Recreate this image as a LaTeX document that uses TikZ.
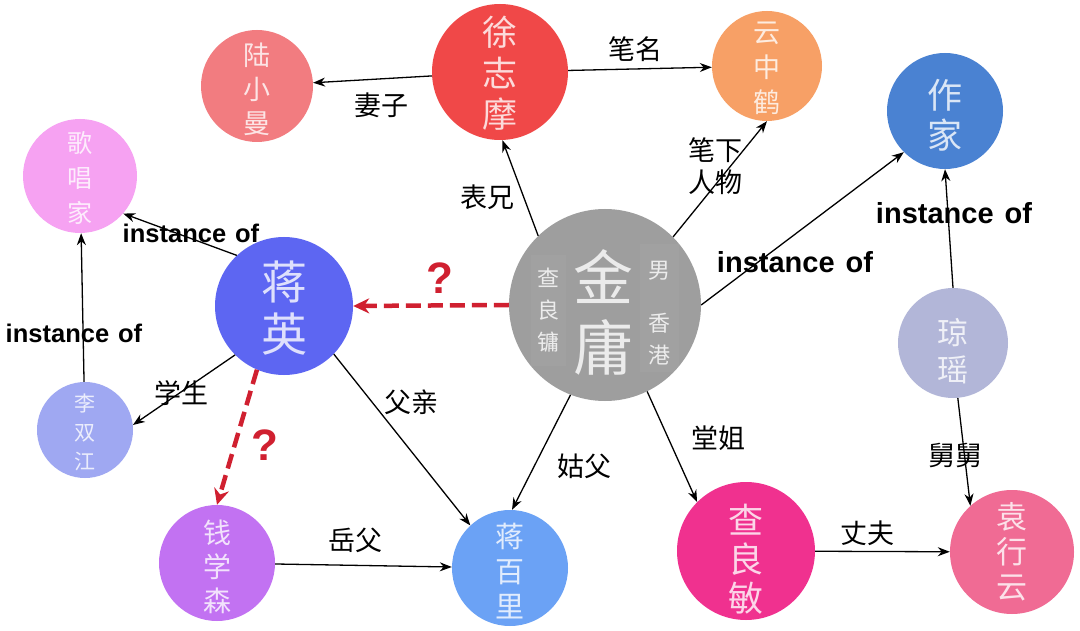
\documentclass[tikz,border=0pt]{standalone}
\usepackage{fontspec}
\setmainfont{Liberation Sans}
\newfontfamily\cjk{Noto Sans CJK SC}
\usetikzlibrary{arrows.meta}
\definecolor{qred}{HTML}{D02030}
\definecolor{cLu}{HTML}{F27C80}
\definecolor{cXu}{HTML}{F04848}
\definecolor{cYz}{HTML}{F7A066}
\definecolor{cZj}{HTML}{4A82D2}
\definecolor{cGc}{HTML}{F6A2F2}
\definecolor{cJy}{HTML}{5D66F2}
\definecolor{cJin}{HTML}{9E9E9E}
\definecolor{cQy}{HTML}{B2B6D8}
\definecolor{cLs}{HTML}{9FA8F2}
\definecolor{cQx}{HTML}{C272F2}
\definecolor{cJb}{HTML}{6BA2F5}
\definecolor{cCl}{HTML}{F0318F}
\definecolor{cYx}{HTML}{F06B94}
\tikzset{
  ent/.style={circle, inner sep=0pt, draw=none, fill=#1},
  nm/.style={align=center, text=white, text opacity=0.8, inner sep=0pt},
  rel/.style={-{Stealth[length=12pt,width=9pt]}, line width=1.3pt, black},
  guess/.style={-{Stealth[length=16pt,width=15pt]}, line width=4.5pt, qred, dash pattern=on 15pt off 7pt},
  lab/.style={font=\cjk\fontsize{27}{32}\selectfont, inner sep=0pt, align=center},
  inst/.style={font=\bfseries\fontsize{29}{32}\selectfont, inner sep=0pt},
  insts/.style={font=\bfseries\fontsize{25.5}{30}\selectfont, inner sep=0pt},
  qm/.style={font=\bfseries\fontsize{44}{48}\selectfont, text=qred, inner sep=0pt}
}
\newcommand{\vt}[2]{\cjk\fontsize{#1}{#2}\selectfont}
\begin{document}
\begin{tikzpicture}[x=1pt,y=-1pt]
\useasboundingbox (0,0) rectangle (1080,631);
\fill[white] (0,0) rectangle (1080,631);
% entity circles
\node[ent=cLu, minimum size=112pt] (lu) at (257,86) {};
\node[ent=cXu, minimum size=136pt] (xu) at (500,72) {};
\node[ent=cYz, minimum size=110pt] (yz) at (767,66) {};
\node[ent=cZj, minimum size=116pt] (zj) at (945,111) {};
\node[ent=cGc, minimum size=114pt] (gc) at (80,176) {};
\node[ent=cJy, minimum size=138pt] (jy) at (284,306) {};
\node[ent=cJin, minimum size=192pt] (jin) at (605,305) {};
\node[ent=cQy, minimum size=110pt] (qy) at (953,343) {};
\node[ent=cLs, minimum size=96pt] (ls) at (85,430) {};
\node[ent=cQx, minimum size=116pt] (qx) at (217,563) {};
\node[ent=cJb, minimum size=116pt] (jb) at (510,568) {};
\node[ent=cCl, minimum size=138pt] (cl) at (746,551) {};
\node[ent=cYx, minimum size=124pt] (yx) at (1012,552) {};
% names
\node[nm, font=\vt{27}{34}] (luT) at (257,89) {陆\\小\\曼};
\node[nm, font=\vt{35}{41}] (xuT) at (500,73) {徐\\志\\摩};
\node[nm, font=\vt{27}{35}] (yzT) at (767,68) {云\\中\\鹤};
\node[nm, font=\vt{35}{40}] (zjT) at (945,115) {作\\家};
\node[nm, font=\vt{25}{35}] (gcT) at (80,178) {歌\\唱\\家};
\node[nm, font=\vt{46}{52}] (jyT) at (284,308) {蒋\\英};
\node[nm, font=\vt{31}{37}] (qyT) at (953,351) {琼\\瑶};
\node[nm, font=\vt{21}{29}] (lsT) at (85,432) {李\\双\\江};
\node[nm, font=\vt{28}{34}] (qxT) at (217,567) {钱\\学\\森};
\node[nm, font=\vt{29}{35}] (jbT) at (510,571) {蒋\\百\\里};
\node[nm, font=\vt{35}{39}] (clT) at (746,559) {查\\良\\敏};
\node[nm, font=\vt{31}{35}] (yxT) at (1012,552) {袁\\行\\云};
% Jin Yong inner text
\fill[white, fill opacity=0.04] (531,255) rectangle (566,366);
\fill[white, fill opacity=0.04] (640,244) rectangle (679,372);
\node[nm, font=\vt{60}{70}] (jinT) at (603,312) {金\\庸};
\node[nm, font=\vt{22}{32}] (zlyT) at (548,310) {查\\良\\镛};
\node[nm, font=\vt{22}{32}] (nanT) at (659,271) {男};
\node[nm, font=\vt{22}{32}] (xgT) at (659,339) {香\\港};
% relations
\draw[rel] (xu) -- (lu);
\draw[rel] (xu) -- (yz);
\draw[rel] (jin.134) -- (xu.272);
\draw[rel] (jin.45) -- (yz.270);
\draw[rel] (jin.east) -- (zj.225);
\draw[rel] (qy.north) -- (zj.south);
\draw[rel] (qy.275) -- (yx.132);
\draw[rel] (jy.133) -- (gc.319);
\draw[rel] (ls) -- (gc);
\draw[rel] (jy.225) -- (ls.6);
\draw[rel] (jy.316) -- (jb.133);
\draw[rel] (jin.249) -- (jb.88);
\draw[rel] (jin.296) -- (cl.135);
\draw[rel] (qx) -- (jb);
\draw[rel] (cl) -- (yx);
\draw[guess] (jin.west) -- (jy.east);
\draw[guess] (jy.247) -- (qx.north);
% labels
\node[lab] (l1) at (381,105) {妻子};
\node[lab] (l2) at (635,49) {笔名};
\node[lab] (l3) at (487,197) {表兄};
\node[lab] (l4) at (715,166) {笔下\\人物};
\node[inst] (l5) at (795,262) {instance\hspace{11pt}of};
\node[inst] (l6) at (954,213) {instance\hspace{11pt}of};
\node[lab] (l7) at (955,455) {舅舅};
\node[qm] (q1) at (440,278) {?};
\node[qm] (q2) at (265,445) {?};
\node[insts] (l8) at (191,233) {instance\hspace{9pt}of};
\node[insts] (l9) at (74,333) {instance\hspace{9pt}of};
\node[lab] (l10) at (181,393) {学生};
\node[lab] (l11) at (411,402) {父亲};
\node[lab] (l12) at (584,466) {姑父};
\node[lab] (l13) at (718,438) {堂姐};
\node[lab] (l14) at (355,540) {岳父};
\node[lab] (l15) at (867,533) {丈夫};
\end{tikzpicture}
\end{document}
